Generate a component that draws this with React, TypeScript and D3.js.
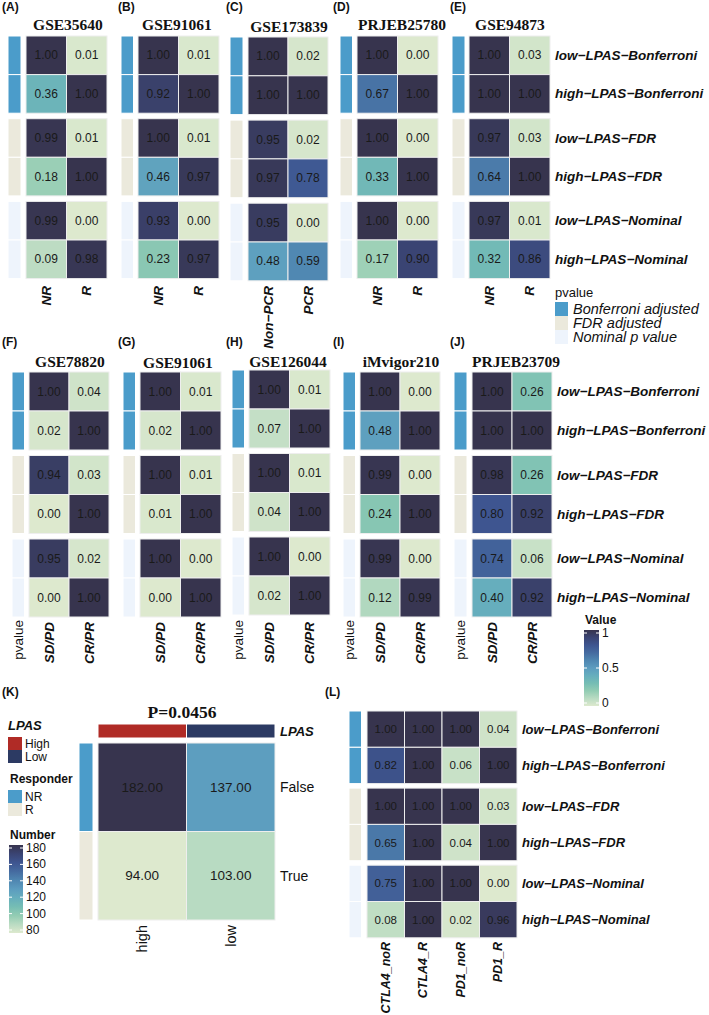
import React from "react";
import * as d3 from "d3";

const SANS = "'Liberation Sans', Arial, Helvetica, sans-serif";
const SERIF = "'Liberation Serif', 'Times New Roman', Times, serif";

// ---------- data ----------
const rowLabels = [
  "low−LPAS−Bonferroni",
  "high−LPAS−Bonferroni",
  "low−LPAS−FDR",
  "high−LPAS−FDR",
  "low−LPAS−Nominal",
  "high−LPAS−Nominal",
];
const pvalueGroups = ["Bonferroni adjusted", "FDR adjusted", "Nominal p value"];
const pvalueColors = ["#4b9cca", "#ebe9dc", "#eef4fc"];

const colsResponse = ["NR", "R"];
const colsPCR = ["Non−PCR", "PCR"];
const colsRecist = ["SD/PD", "CR/PR"];
const colsIO = ["CTLA4_noR", "CTLA4_R", "PD1_noR", "PD1_R"];

const valuesA = [[1.0, 0.01], [0.36, 1.0], [0.99, 0.01], [0.18, 1.0], [0.99, 0.0], [0.09, 0.98]];
const valuesB = [[1.0, 0.01], [0.92, 1.0], [1.0, 0.01], [0.46, 0.97], [0.93, 0.0], [0.23, 0.97]];
const valuesC = [[1.0, 0.02], [1.0, 1.0], [0.95, 0.02], [0.97, 0.78], [0.95, 0.0], [0.48, 0.59]];
const valuesD = [[1.0, 0.0], [0.67, 1.0], [1.0, 0.0], [0.33, 1.0], [1.0, 0.0], [0.17, 0.9]];
const valuesE = [[1.0, 0.03], [1.0, 1.0], [0.97, 0.03], [0.64, 1.0], [0.97, 0.01], [0.32, 0.86]];
const valuesF = [[1.0, 0.04], [0.02, 1.0], [0.94, 0.03], [0.0, 1.0], [0.95, 0.02], [0.0, 1.0]];
const valuesG = [[1.0, 0.01], [0.02, 1.0], [1.0, 0.01], [0.01, 1.0], [1.0, 0.0], [0.0, 1.0]];
const valuesH = [[1.0, 0.01], [0.07, 1.0], [1.0, 0.01], [0.04, 1.0], [1.0, 0.0], [0.02, 1.0]];
const valuesI = [[1.0, 0.0], [0.48, 1.0], [0.99, 0.0], [0.24, 1.0], [0.99, 0.0], [0.12, 0.99]];
const valuesJ = [[1.0, 0.26], [1.0, 1.0], [0.98, 0.26], [0.8, 0.92], [0.74, 0.06], [0.4, 0.92]];
const valuesL = [
  [1.0, 1.0, 1.0, 0.04],
  [0.82, 1.0, 0.06, 1.0],
  [1.0, 1.0, 1.0, 0.03],
  [0.65, 1.0, 0.04, 1.0],
  [0.75, 1.0, 1.0, 0.0],
  [0.08, 1.0, 0.02, 0.96],
];

const kRows = ["False", "True"];
const kCols = ["high", "low"];
const kCounts = [[182, 137], [94, 103]];
const kResponder = ["NR", "R"];
const kLpas = ["High", "Low"];
const kLpasColors = ["#b02b26", "#2c3a63"];
const kNumberTicks = [80, 100, 120, 140, 160, 180];
const valueTicks = [0, 0.5, 1];

// ---------- colour ----------
const paletteStops = [0, 0.1, 0.2, 0.3, 0.4, 0.5, 0.6, 0.7, 0.8, 0.9, 1];
const palette = [
  "#dde9ce", "#b9dbc2", "#92ccb3", "#75bdb4", "#66aebd", "#5c9cbf",
  "#4f86b1", "#456ba0", "#3e5590", "#3a4473", "#37344e",
];
const valueColor = d3
  .scaleLinear<string>()
  .domain(paletteStops)
  .range(palette)
  .interpolate(d3.interpolateLab)
  .clamp(true);
const kNorm = d3.scaleLinear().domain([94, 182]).range([0, 1]).clamp(true);

// ---------- layout ----------
type Spec = {
  label: string; labelX: number; labelY: number;
  title: string; titleX: number; titleY: number;
  values: number[][]; cols: string[];
  x0: number; colW: number; top: number; rowH: number; gap: number;
  annX: number; annW: number; colLabelY: number; colFont: number;
  pvalueLabel?: boolean; rowLabelX?: number; rowFont?: number; cellFont?: number;
};

const topRow = { top: 36, rowH: 38.6, gap: 5.5, colLabelY: 286, colFont: 13.5 };
const botRow = { top: 372, rowH: 39, gap: 5.5, colLabelY: 622, colFont: 13.5 };

const specs: Spec[] = [
  { ...topRow, label: "(A)", labelX: 2, labelY: 11, title: "GSE35640", titleX: 68, titleY: 29.5, values: valuesA, cols: colsResponse, x0: 26, colW: 40.5, annX: 8, annW: 13 },
  { ...topRow, label: "(B)", labelX: 118, labelY: 11, title: "GSE91061", titleX: 177, titleY: 29.5, values: valuesB, cols: colsResponse, x0: 138, colW: 40.5, annX: 121, annW: 12.5 },
  { ...topRow, top: 37, rowH: 38.8, label: "(C)", labelX: 226, labelY: 11, title: "GSE173839", titleX: 289, titleY: 31.5, values: valuesC, cols: colsPCR, x0: 248, colW: 40, annX: 230, annW: 13 },
  { ...topRow, label: "(D)", labelX: 333, labelY: 11, title: "PRJEB25780", titleX: 402, titleY: 30, values: valuesD, cols: colsResponse, x0: 357, colW: 40.5, annX: 340, annW: 12.5 },
  { ...topRow, label: "(E)", labelX: 450, labelY: 11, title: "GSE94873", titleX: 510, titleY: 29.5, values: valuesE, cols: colsResponse, x0: 469, colW: 40.5, annX: 452, annW: 13, rowLabelX: 555, rowFont: 13.5 },
  { ...botRow, label: "(F)", labelX: 2, labelY: 346, title: "GSE78820", titleX: 70, titleY: 366.5, values: valuesF, cols: colsRecist, x0: 29, colW: 40, annX: 12, annW: 12.5, pvalueLabel: true },
  { ...botRow, label: "(G)", labelX: 118, labelY: 346, title: "GSE91061", titleX: 178, titleY: 368, values: valuesG, cols: colsRecist, x0: 140, colW: 40.5, annX: 123, annW: 12.5 },
  { ...botRow, top: 370, label: "(H)", labelX: 226, labelY: 346, title: "GSE126044", titleX: 288, titleY: 366.5, values: valuesH, cols: colsRecist, x0: 249, colW: 40.5, annX: 232, annW: 12.5, pvalueLabel: true },
  { ...botRow, label: "(I)", labelX: 333, labelY: 346, title: "iMvigor210", titleX: 401, titleY: 367, values: valuesI, cols: colsRecist, x0: 360, colW: 40, annX: 343, annW: 12.5, pvalueLabel: true },
  { ...botRow, label: "(J)", labelX: 450, labelY: 346, title: "PRJEB23709", titleX: 516, titleY: 366.5, values: valuesJ, cols: colsRecist, x0: 472, colW: 40, annX: 454, annW: 13, pvalueLabel: true, rowLabelX: 557, rowFont: 13.5 },
  { label: "(L)", labelX: 325, labelY: 696, title: "", titleX: 0, titleY: 0, values: valuesL, cols: colsIO, x0: 367, colW: 37.5, top: 711, rowH: 36.3, gap: 4.5, annX: 349, annW: 12.5, colLabelY: 942, colFont: 12.5, rowLabelX: 522, rowFont: 13, cellFont: 11.5 },
];

function HeatPanel({ s }: { s: Spec }) {
  const x = d3.scaleBand<string>().domain(s.cols).range([s.x0, s.x0 + s.colW * s.cols.length]);
  const groupH = 2 * s.rowH;
  const yG = d3
    .scaleBand<string>()
    .domain(pvalueGroups)
    .range([s.top, s.top + 3 * groupH + 2 * s.gap])
    .paddingInner(s.gap / (groupH + s.gap))
    .paddingOuter(0);
  const yR = d3.scaleBand<string>().domain(["low", "high"]).range([0, yG.bandwidth()]);
  const rows = rowLabels.map((lab, i) => {
    const g = pvalueGroups[Math.floor(i / 2)];
    return { lab, g, gi: Math.floor(i / 2), y: (yG(g) as number) + (yR(i % 2 === 0 ? "low" : "high") as number), h: yR.bandwidth() };
  });
  const cellFont = s.cellFont ?? 12;
  return (
    <g>
      <text x={s.labelX} y={s.labelY} fontFamily={SANS} fontWeight="bold" fontSize={12} fill="#111">{s.label}</text>
      {s.title && (
        <text x={s.titleX} y={s.titleY} textAnchor="middle" fontFamily={SERIF} fontWeight="bold" fontSize={15.5} fill="#111">{s.title}</text>
      )}
      {rows.map((r, i) => (
        <rect key={"a" + i} x={s.annX} y={r.y} width={s.annW} height={r.h} fill={pvalueColors[r.gi]} stroke="#ffffff" strokeWidth={1} />
      ))}
      {rows.map((r, i) =>
        s.cols.map((c, j) => (
          <g key={"c" + i + "-" + j}>
            <rect x={x(c)} y={r.y} width={x.bandwidth()} height={r.h} fill={valueColor(s.values[i][j])} stroke="#eeeeee" strokeWidth={1} />
            <text x={(x(c) as number) + x.bandwidth() / 2} y={r.y + r.h / 2} textAnchor="middle" dominantBaseline="central" fontFamily={SANS} fontSize={cellFont} fill="#1a1a1a">
              {s.values[i][j].toFixed(2)}
            </text>
          </g>
        ))
      )}
      {s.rowLabelX !== undefined &&
        rows.map((r, i) => (
          <text key={"r" + i} x={s.rowLabelX} y={r.y + r.h / 2} dominantBaseline="central" fontFamily={SANS} fontWeight="bold" fontStyle="italic" fontSize={s.rowFont} fill="#111">
            {r.lab}
          </text>
        ))}
      {s.cols.map((c) => (
        <text key={"x" + c} transform={`translate(${(x(c) as number) + x.bandwidth() / 2},${s.colLabelY}) rotate(-90)`} textAnchor="end" dominantBaseline="central" fontFamily={SANS} fontWeight="bold" fontStyle="italic" fontSize={s.colFont} fill="#111">
          {c}
        </text>
      ))}
      {s.pvalueLabel && (
        <text transform={`translate(${s.annX + s.annW / 2},${s.colLabelY - 2}) rotate(-90)`} textAnchor="end" dominantBaseline="central" fontFamily={SANS} fontSize={13.5} fill="#111">
          pvalue
        </text>
      )}
    </g>
  );
}

function PvalueLegend() {
  const y = d3.scaleBand<string>().domain(pvalueGroups).range([302, 344]);
  return (
    <g>
      <text x={555} y={292} dominantBaseline="central" fontFamily={SANS} fontSize={13} fill="#111">pvalue</text>
      {pvalueGroups.map((g, i) => (
        <g key={g}>
          <rect x={555} y={y(g)} width={13} height={y.bandwidth()} fill={pvalueColors[i]} />
          <text x={573} y={(y(g) as number) + y.bandwidth() / 2} dominantBaseline="central" fontFamily={SANS} fontStyle="italic" fontSize={14.5} fill="#111">{g}</text>
        </g>
      ))}
    </g>
  );
}

function ValueLegend() {
  const y = d3.scaleLinear().domain([0, 1]).range([703, 633]);
  return (
    <g>
      <defs>
        <linearGradient id="valGrad" x1="0" y1="1" x2="0" y2="0">
          {paletteStops.map((p, i) => (
            <stop key={i} offset={p} stopColor={palette[i]} />
          ))}
        </linearGradient>
      </defs>
      <text x={585} y={620} dominantBaseline="central" fontFamily={SANS} fontWeight="bold" fontSize={12} fill="#111">Value</text>
      <rect x={584} y={630} width={15} height={76} fill="url(#valGrad)" />
      {valueTicks.map((t) => (
        <g key={t}>
          <line x1={596} x2={599} y1={y(t)} y2={y(t)} stroke="#fff" strokeWidth={1} />
          <line x1={584} x2={587} y1={y(t)} y2={y(t)} stroke="#fff" strokeWidth={1} />
          <text x={602} y={y(t)} dominantBaseline="central" fontFamily={SANS} fontSize={12} fill="#111">{String(t)}</text>
        </g>
      ))}
    </g>
  );
}

function PanelK() {
  const x = d3.scaleBand<string>().domain(kCols).range([98, 275]);
  const y = d3.scaleBand<string>().domain(kRows).range([743, 920]);
  const yLeg = d3.scaleLinear().domain([80, 180]).range([930, 848]);
  const swL = d3.scaleBand<string>().domain(kLpas).range([737, 763]);
  const swR = d3.scaleBand<string>().domain(kResponder).range([790, 816]);
  return (
    <g>
      <text x={2} y={696} fontFamily={SANS} fontWeight="bold" fontSize={12} fill="#111">(K)</text>
      <text x={182} y={718} textAnchor="middle" fontFamily={SERIF} fontWeight="bold" fontSize={17.5} fill="#111">P=0.0456</text>
      {/* top annotation */}
      {kCols.map((c, j) => (
        <rect key={c} x={x(c)} y={724} width={x.bandwidth()} height={14} fill={kLpasColors[j]} stroke="#fff" strokeWidth={1} />
      ))}
      <text x={280} y={731} dominantBaseline="central" fontFamily={SANS} fontWeight="bold" fontStyle="italic" fontSize={13} fill="#111">LPAS</text>
      {/* left annotation */}
      {kRows.map((r, i) => (
        <rect key={r} x={79} y={y(r)} width={14} height={y.bandwidth()} fill={pvalueColors[i]} stroke="#fff" strokeWidth={1} />
      ))}
      {kRows.map((r, i) =>
        kCols.map((c, j) => (
          <g key={r + c}>
            <rect x={x(c)} y={y(r)} width={x.bandwidth()} height={y.bandwidth()} fill={valueColor(kNorm(kCounts[i][j]))} stroke="#eeeeee" strokeWidth={1} />
            <text x={(x(c) as number) + x.bandwidth() / 2} y={(y(r) as number) + y.bandwidth() / 2} textAnchor="middle" dominantBaseline="central" fontFamily={SANS} fontSize={13.5} fill="#1a1a1a">
              {kCounts[i][j].toFixed(2)}
            </text>
          </g>
        ))
      )}
      {kRows.map((r) => (
        <text key={"rl" + r} x={280} y={(y(r) as number) + y.bandwidth() / 2} dominantBaseline="central" fontFamily={SANS} fontSize={14} fill="#111">{r}</text>
      ))}
      {kCols.map((c) => (
        <text key={"cl" + c} transform={`translate(${(x(c) as number) + x.bandwidth() / 2},925) rotate(-90)`} textAnchor="end" dominantBaseline="central" fontFamily={SANS} fontSize={14.5} fill="#111">{c}</text>
      ))}
      {/* legends */}
      <text x={8} y={725} dominantBaseline="central" fontFamily={SANS} fontWeight="bold" fontStyle="italic" fontSize={13} fill="#111">LPAS</text>
      {kLpas.map((l, i) => (
        <g key={l}>
          <rect x={8} y={swL(l)} width={14} height={swL.bandwidth()} fill={kLpasColors[i]} />
          <text x={25} y={(swL(l) as number) + swL.bandwidth() / 2} dominantBaseline="central" fontFamily={SANS} fontSize={12} fill="#111">{l}</text>
        </g>
      ))}
      <text x={10} y={779} dominantBaseline="central" fontFamily={SANS} fontWeight="bold" fontSize={12} fill="#111">Responder</text>
      {kResponder.map((l, i) => (
        <g key={l}>
          <rect x={8} y={swR(l)} width={14} height={swR.bandwidth()} fill={pvalueColors[i]} />
          <text x={25} y={(swR(l) as number) + swR.bandwidth() / 2} dominantBaseline="central" fontFamily={SANS} fontSize={12} fill="#111">{l}</text>
        </g>
      ))}
      <text x={10} y={835} dominantBaseline="central" fontFamily={SANS} fontWeight="bold" fontSize={12} fill="#111">Number</text>
      <rect x={9} y={845} width={14} height={88} fill="url(#valGrad)" />
      {kNumberTicks.map((t) => (
        <g key={t}>
          <line x1={9} x2={12} y1={yLeg(t)} y2={yLeg(t)} stroke="#fff" strokeWidth={1} />
          <line x1={20} x2={23} y1={yLeg(t)} y2={yLeg(t)} stroke="#fff" strokeWidth={1} />
          <text x={26} y={yLeg(t)} dominantBaseline="central" fontFamily={SANS} fontSize={12} fill="#111">{String(t)}</text>
        </g>
      ))}
    </g>
  );
}

export default function App() {
  return (
    <svg width={709} height={1015} viewBox="0 0 709 1015" style={{ position: "absolute", left: 0, top: 0, background: "#fff" }}>
      <rect width={709} height={1015} fill="#fff" />
      <ValueLegend />
      {specs.map((s) => (
        <HeatPanel key={s.label} s={s} />
      ))}
      <PvalueLegend />
      <PanelK />
    </svg>
  );
}
